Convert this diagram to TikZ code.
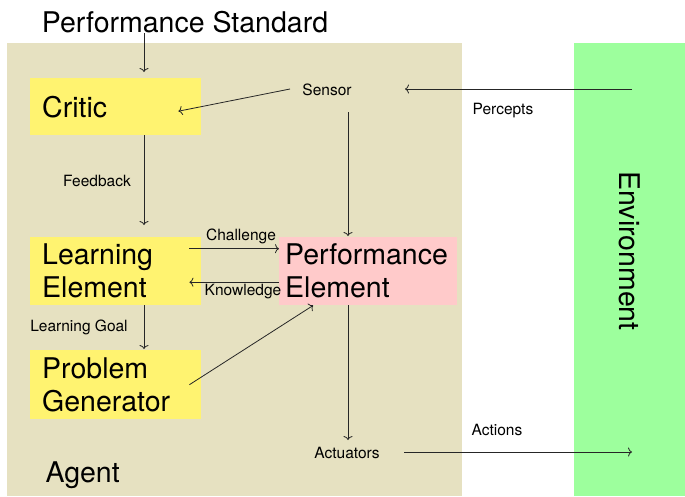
\documentclass[tikz,border=0pt]{standalone}
\usepackage{fontspec}
\setmainfont{TeX Gyre Heros}
\usetikzlibrary{calc, arrows.meta}

\definecolor{agenttan}{RGB}{230,225,193}
\definecolor{envgreen}{RGB}{157,255,157}
\definecolor{partyellow}{RGB}{255,243,112}
\definecolor{perfpink}{RGB}{255,202,202}
\newcommand\bigtxt{\fontsize{28.5}{33}\selectfont}
\newcommand\smalltxt{\fontsize{15.5}{18}\selectfont}

\begin{document}
\begin{tikzpicture}[x=1pt, y=-1pt,
    part/.style={fill=partyellow, anchor=north west, inner xsep=12pt, text width=147pt,
        align=left, font=\bigtxt, minimum height=68pt},
    big/.style={font=\bigtxt},
    lbl/.style={font=\smalltxt},
    flow/.style={-{To[length=4pt, width=9pt]}, line width=0.8pt, draw=black!85}]
    \useasboundingbox (0,0) rectangle (685,496);
    \fill[agenttan] (7,43) rectangle (462,496);
    \fill[envgreen] (574,43) rectangle (685,496);

    \coordinate (colA) at (144,0);
    \coordinate (colB) at (348,0);
    \coordinate (envin) at (632,89);
    \coordinate (envout) at (632,452);

    \node[big] (pstd) at (185,22) {Performance Standard};
    \node[big, anchor=base west] (agent) at (42,482) {Agent};
    \node[big, rotate=-90] (env) at (630,251) {Environment};

    \node[part, minimum height=57pt] (critic) at (30,78) {Critic};
    \node[part] (learn) at (30,237) {Learning\\Element};
    \node[part, minimum height=69pt] (probgen) at (30,350) {Problem\\Generator};
    \node[part, fill=perfpink, inner xsep=6pt, text width=166pt] (perf) at (279,237) {Performance\\Element};

    \node[lbl] (sensor) at (327,90) {Sensor};
    \node[lbl] (actuators) at (347,453) {Actuators};
    \node[lbl] (feedback) at (97,181) {Feedback};
    \node[lbl] (goal) at (79,327) {Learning Goal};
    \node[lbl] (challenge) at (241,236) {Challenge};
    \node[lbl] (knowledge) at (243,292) {Knowledge};
    \node[lbl] (percepts) at (503,111) {Percepts};
    \node[lbl] (actions) at (497,430) {Actions};

    % connectors
    \draw[flow] ($(pstd.center -| colA)+(0,11)$) -- ($(critic.north -| colA)+(0,-6)$);
    \draw[flow] ($(sensor)+(-37,-1)$) -- ($(critic.east)+(-23,4.5)$);
    \draw[flow] (critic.south -| colA) -- ($(learn.north -| colA)+(0,-12)$);
    \draw[flow] ($(sensor)+(21,22)$) -- ($(perf.north -| colB)+(0,-1)$);
    \draw[flow] ($(learn.east)+(-12,-22.5)$) -- ($(perf.west)+(0,-22.5)$);
    \draw[flow] ($(perf.west)+(0,11)$) -- ($(learn.east)+(-12,11)$);
    \draw[flow] (learn.south -| colA) -- ($(probgen.north -| colA)+(0,-1)$);
    \draw[flow] ($(probgen.east)+(-12,0)$) -- ($(perf.south)+(-55,0)$);
    \draw[flow] (perf.south -| colB) -- ($(actuators)+(1,-13)$);
    \draw[flow] (envin) -- ($(sensor)+(78,-1)$);
    \draw[flow] ($(actuators)+(57,-1)$) -- (envout);
\end{tikzpicture}
\end{document}
